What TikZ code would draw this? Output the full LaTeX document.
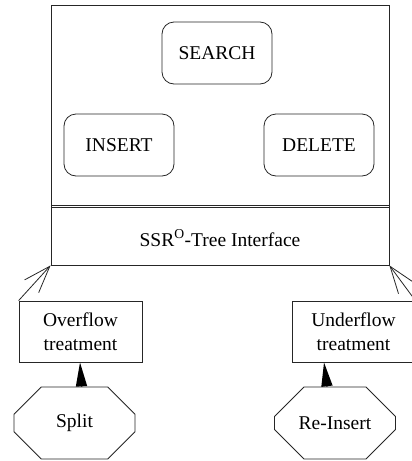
\documentclass[tikz,border=0pt]{standalone}
\usepackage{fontspec}
\setmainfont{Liberation Serif}
\usetikzlibrary{shapes.misc,arrows.meta}
\begin{document}
\begin{tikzpicture}[x=1pt,y=-1pt,
  every node/.style={font=\fontsize{19.5}{24}\selectfont, inner sep=0pt},
  ln/.style={draw=black!85, line width=0.8pt},
  rbox/.style={ln, rounded corners=12pt, minimum width=110pt, minimum height=62pt},
  sbox/.style={ln, rectangle, minimum width=123pt, minimum height=61pt, align=center},
  oct/.style={ln, chamfered rectangle, chamfered rectangle xsep=23pt, chamfered rectangle ysep=23pt, minimum width=121pt, minimum height=72pt},
  openarrow/.style={draw=black!85, line width=0.8pt, -{Straight Barb[length=27pt,width=19pt,line width=0.8pt]}},
  solidarrow/.style={draw=black, line width=1.4pt, -{Triangle[length=24pt,width=11pt]}}]
\useasboundingbox (0,0) rectangle (412,461);
\node[ln, minimum width=338pt, minimum height=260pt] (main) at (220,135) {};
\node[minimum width=338pt, minimum height=58pt, anchor=south] (iface) at ([yshift=-2pt]main.south) {SSR\textsuperscript{O}-Tree Interface};
\draw[ln] ([yshift=2pt]iface.north west) -- ([yshift=2pt]iface.north east);
\draw[ln] ([yshift=4pt]iface.north west) -- ([yshift=4pt]iface.north east);
\node[rbox] (search) at (217,53) {SEARCH};
\node[rbox] (insert) at (119,145) {INSERT};
\node[rbox] (delete) at (319,145) {DELETE};
\node[sbox] (over) at (80.5,331.5) {Overflow\\treatment};
\node[sbox] (under) at (353.5,331.5) {Underflow\\treatment};
\node[oct] (split) at (74.5,423) {Split};
\node[oct] (reins) at (335,423) {Re-Insert};
\draw[openarrow] (over.north west) -- (main.south west);
\draw[openarrow] (under.north east) -- (main.south east);
\draw[solidarrow] ([xshift=7pt]split.north) -- ([xshift=-0.5pt]over.south);
\draw[solidarrow] ([xshift=-8pt]reins.north) -- ([xshift=-29.5pt]under.south);
\end{tikzpicture}
\end{document}
